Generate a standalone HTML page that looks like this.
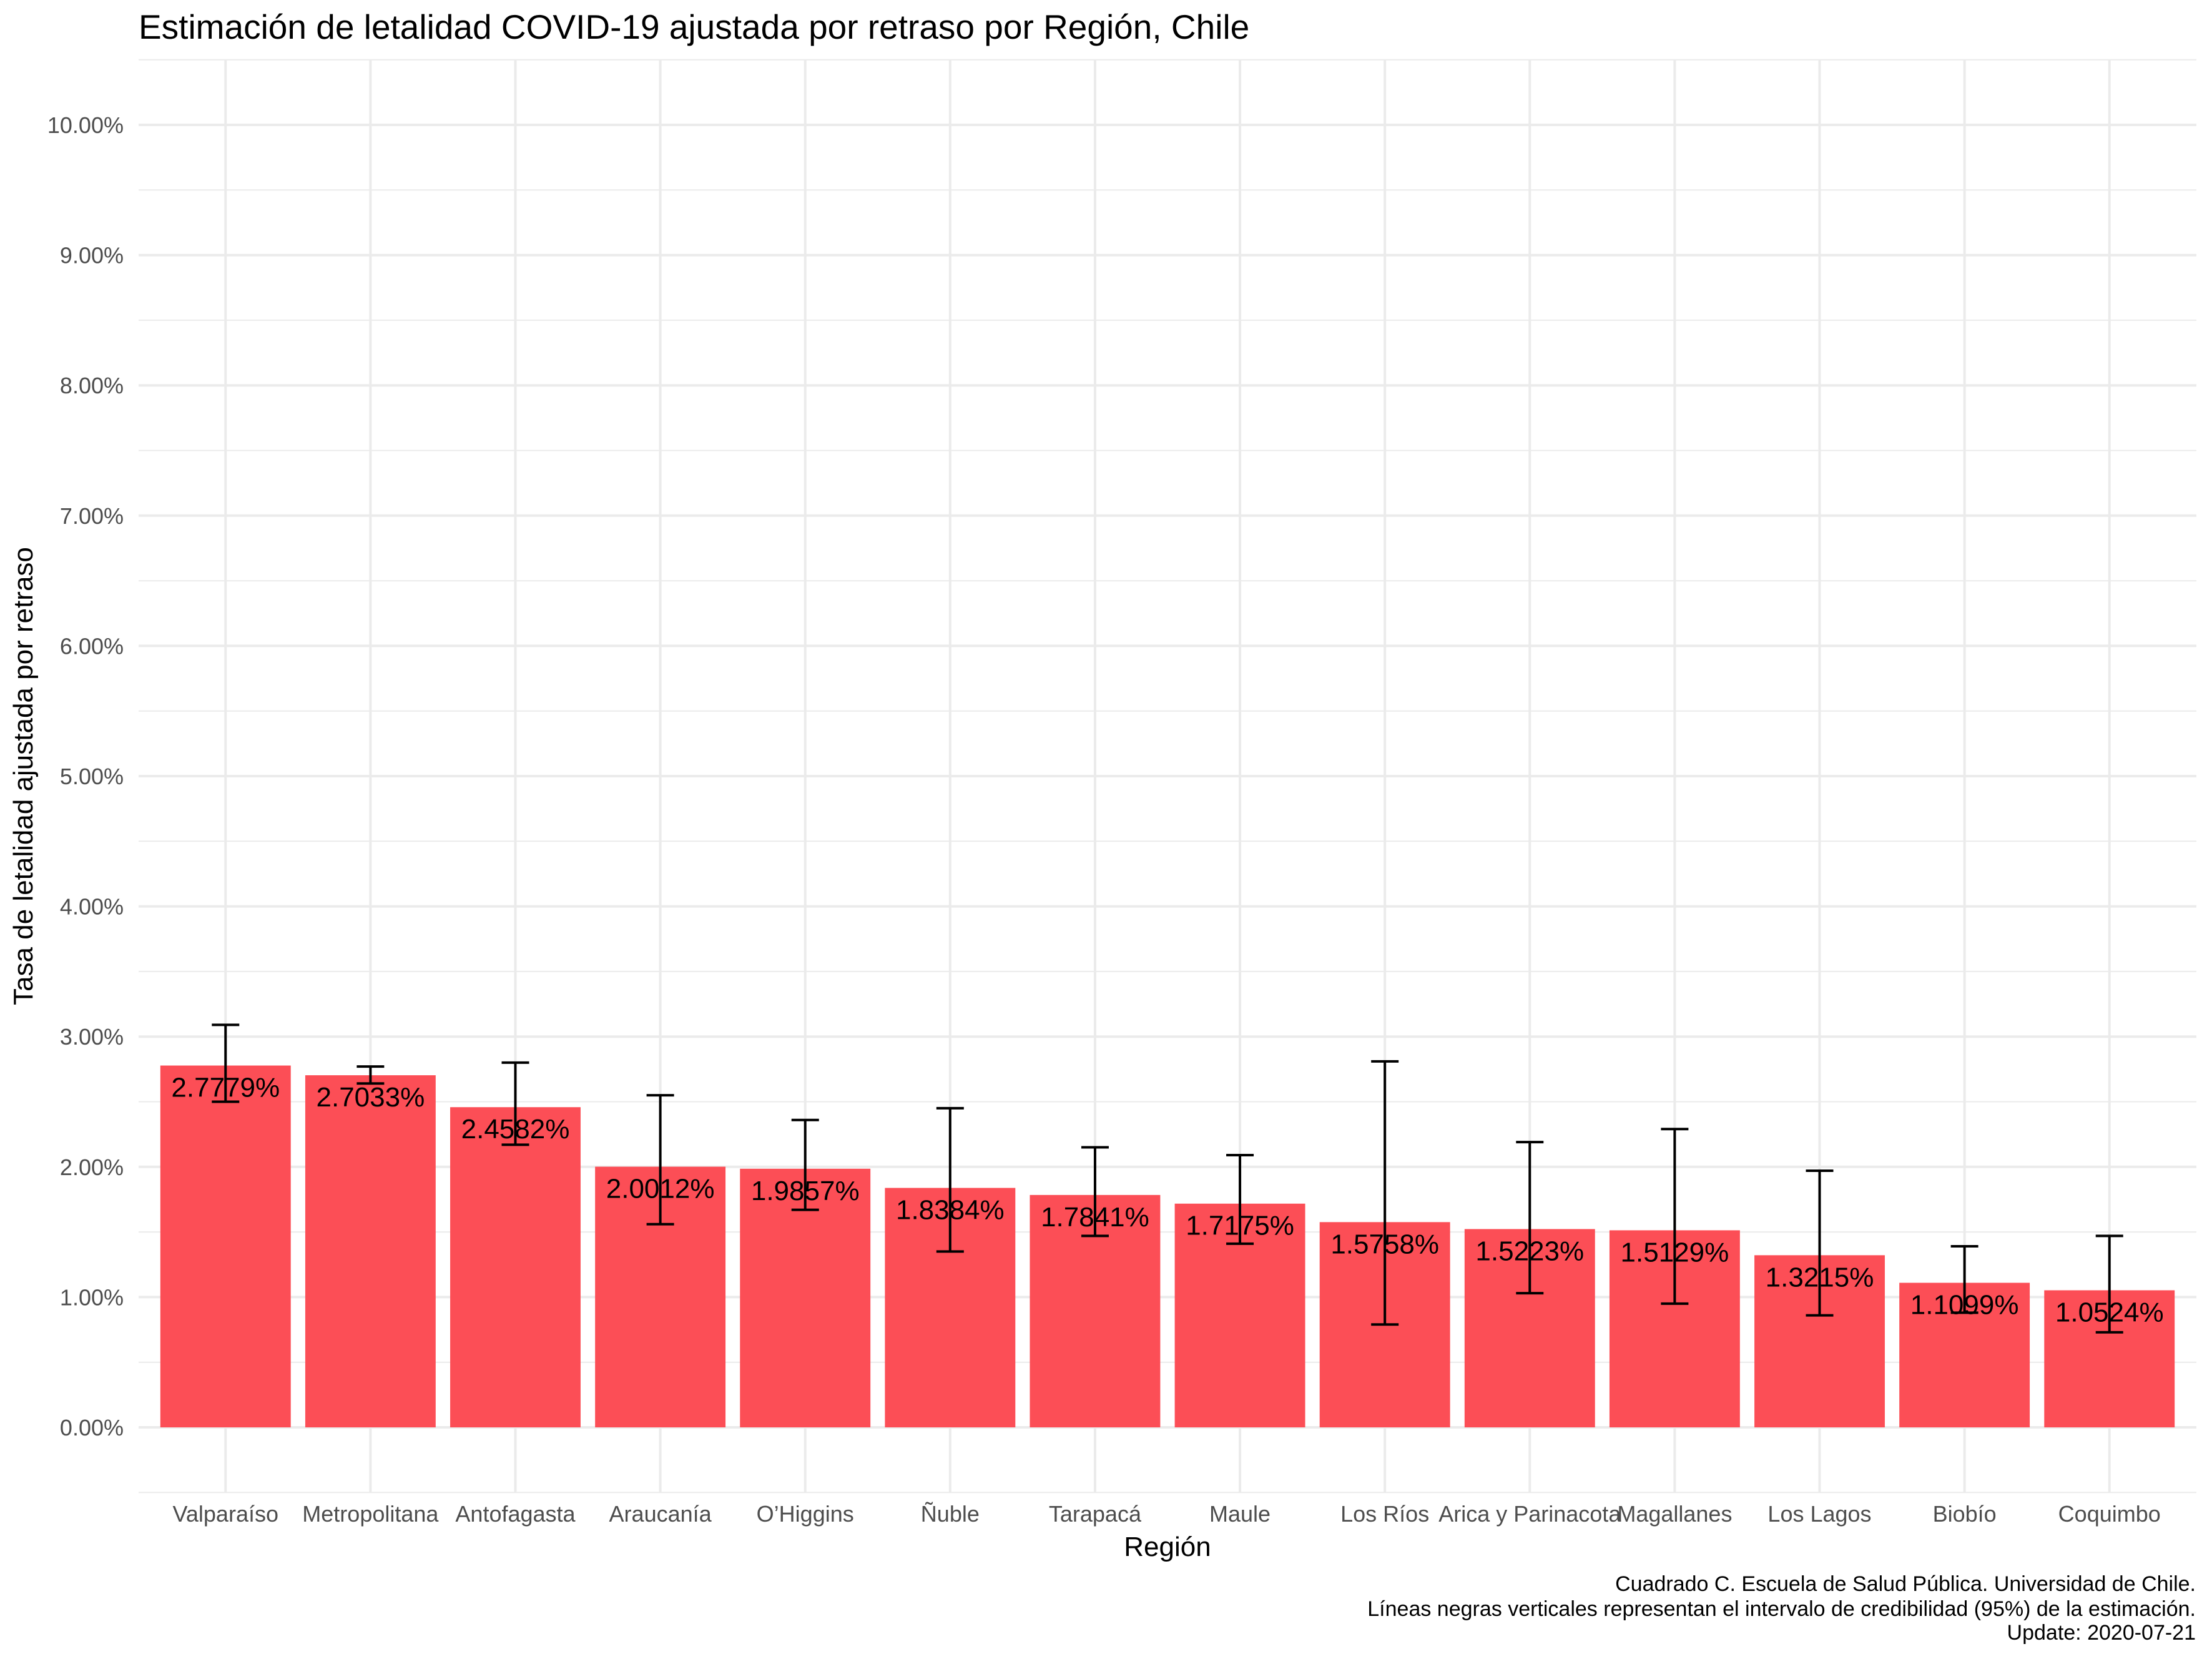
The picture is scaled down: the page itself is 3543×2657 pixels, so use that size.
<!DOCTYPE html>
<html><head><meta charset="utf-8"><style>
html,body{margin:0;padding:0;background:#fff;}
svg{display:block;font-family:"Liberation Sans",Arial,sans-serif;}
</style></head><body>
<svg id="chart" width="3543" height="2657" viewBox="0 0 3543 2657">
<text x="222" y="62" font-size="55" fill="#000">Estimación de letalidad COVID-19 ajustada por retraso por Región, Chile</text>
<g id="grid"></g>
<g id="bars"></g>
<g id="errs"></g>
<g id="labels"></g>
<g id="yticks"></g>
<g id="xticks"></g>
<text x="1870" y="2492" font-size="44" text-anchor="middle" fill="#000">Región</text>
<text transform="translate(52,1243) rotate(-90)" font-size="44" text-anchor="middle" fill="#000">Tasa de letalidad ajustada por retraso</text>
<g font-size="34" text-anchor="end" fill="#000">
<text x="3517" y="2548">Cuadrado C. Escuela de Salud Pública. Universidad de Chile.</text>
<text x="3517" y="2588">Líneas negras verticales representan el intervalo de credibilidad (95%) de la estimación.</text>
<text x="3517" y="2626">Update: 2020-07-21</text>
</g>
</svg>
<script>
const categories=["Valparaíso","Metropolitana","Antofagasta","Araucanía","O’Higgins","Ñuble","Tarapacá","Maule","Los Ríos","Arica y Parinacota","Magallanes","Los Lagos","Biobío","Coquimbo"];
const values=[2.7779,2.7033,2.4582,2.0012,1.9857,1.8384,1.7841,1.7175,1.5758,1.5223,1.5129,1.3215,1.1099,1.0524];
const upper=[3.09,2.77,2.80,2.55,2.36,2.45,2.15,2.09,2.81,2.19,2.29,1.97,1.39,1.47];
const lower=[2.50,2.64,2.17,1.56,1.67,1.35,1.47,1.41,0.79,1.03,0.95,0.86,0.88,0.73];
const yTicks=[0,1,2,3,4,5,6,7,8,9,10];
const NS="http://www.w3.org/2000/svg";
const L=222,R=3518,T=95,B=2390;
const step=(R-L)/(categories.length-1+1.2);
function x(i){return L+step*(0.6+i);}
function y(v){return 2286-208.6*v;}
function mk(tag,attrs,parent){const e=document.createElementNS(NS,tag);for(const k in attrs)e.setAttribute(k,attrs[k]);document.getElementById(parent).appendChild(e);return e;}
for(let v=-0.5;v<=10.5;v+=1){const g=mk('line',{x1:L,x2:R,y1:y(v),y2:y(v),stroke:'#ebebeb','stroke-width':2},'grid');

}
yTicks.forEach(v=>{const g=mk('line',{x1:L,x2:R,y1:y(v),y2:y(v),stroke:'#ebebeb','stroke-width':4},'grid');


const t=mk('text',{x:198,y:y(v)+13,'font-size':36,'text-anchor':'end',fill:'#4d4d4d'},'yticks');t.textContent=v.toFixed(2)+'%';

});
categories.forEach((c,i)=>{const g=mk('line',{x1:x(i),x2:x(i),y1:T,y2:B,stroke:'#ebebeb','stroke-width':4},'grid');


const bw=step*0.9;
const b=mk('rect',{x:x(i)-bw/2,y:y(values[i]),width:bw,height:y(0)-y(values[i]),fill:'#fc4e56'},'bars');


const e=mk('path',{d:`M${x(i)-22},${y(upper[i])}H${x(i)+22}M${x(i)},${y(upper[i])}V${y(lower[i])}M${x(i)-22},${y(lower[i])}H${x(i)+22}`,stroke:'#000','stroke-width':4,fill:'none'},'errs');


const t=mk('text',{x:x(i),y:y(values[i])+50,'font-size':44,'text-anchor':'middle',fill:'#000'},'labels');t.textContent=values[i].toFixed(4)+'%';


const k=mk('text',{x:x(i),y:2437,'font-size':36,'text-anchor':'middle',fill:'#4d4d4d'},'xticks');k.textContent=c;

});
</script>
</body></html>
